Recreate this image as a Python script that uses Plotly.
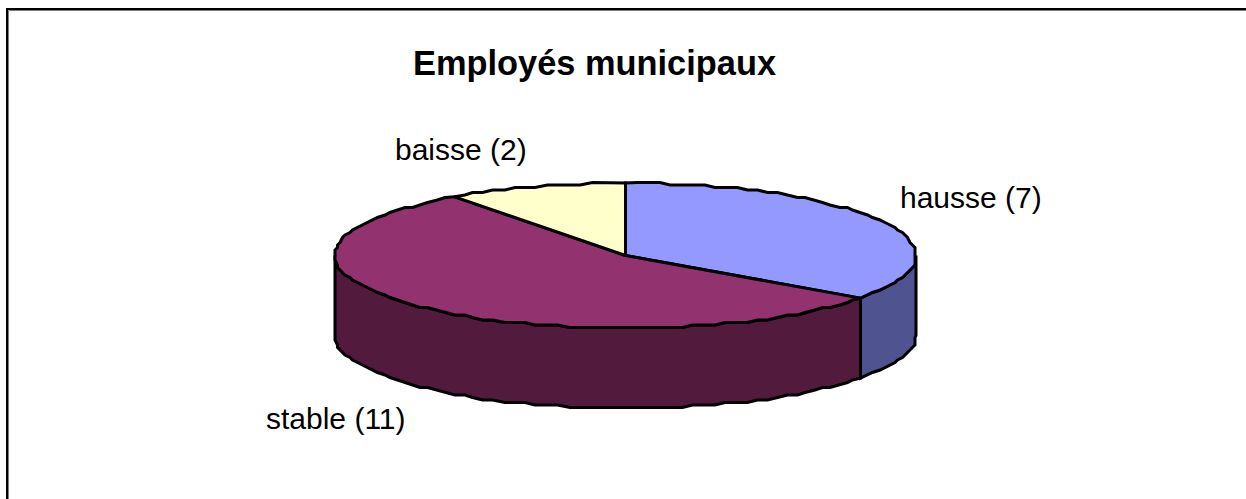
import numpy as np
import plotly.graph_objects as go

TITLE = "Employés municipaux"
categories = ["hausse", "stable", "baisse"]
values = [7, 11, 2]
top_colors = ["#9499FF", "#923370", "#FFFFCC"]
side_colors = ["#4F5490", "#521A3C", "#80805F"]
label_x = [900, 266, 395]
label_y = [200, 421, 152]

W, H = 1246, 499
CX, CY, RX, RY, DEPTH = 625.5, 255.5, 290.5, 72.5, 80
SNAP = 2.5


def arc(a0, a1, dy=0.0):
    n = max(2, int(round((a1 - a0) / (2 * np.pi) * 160)) + 1)
    t = np.linspace(a0, a1, n)
    x = CX + RX * np.sin(t)
    y = CY - RY * np.cos(t)
    ends = np.zeros(n, bool)
    ends[[0, -1]] = True
    # the original outline is visibly stepped: snap the inner vertices to a coarse grid
    xs = np.where(ends, x, np.round(x / SNAP) * SNAP)
    ys = np.where(ends, y, np.round(y / SNAP) * SNAP)
    return xs, ys + dy


fractions = np.array(values, float) / sum(values)
edges = np.concatenate([[0], np.cumsum(fractions)]) * 2 * np.pi

fig = go.Figure()
line = dict(color="black", width=3)

# side walls first
for c, col, a0, a1 in zip(categories, side_colors, edges[:-1], edges[1:]):
    lo, hi = max(a0, np.pi / 2), min(a1, 3 * np.pi / 2)
    if hi <= lo:
        continue
    xt, yt = arc(lo, hi)
    xb, yb = arc(lo, hi, DEPTH)
    fig.add_trace(go.Scatter(
        x=np.concatenate([xt, xb[::-1], xt[:1]]),
        y=np.concatenate([yt, yb[::-1], yt[:1]]),
        mode="lines", fill="toself", fillcolor=col, line=line,
        name=c, hoverinfo="skip", showlegend=False))

# top faces
for c, v, col, a0, a1 in zip(categories, values, top_colors, edges[:-1], edges[1:]):
    xt, yt = arc(a0, a1)
    fig.add_trace(go.Scatter(
        x=np.concatenate([[CX], xt, [CX]]),
        y=np.concatenate([[CY], yt, [CY]]),
        mode="lines", fill="toself", fillcolor=col, line=line,
        name=c, text=f"{c} ({v})", hoverinfo="text", showlegend=False))

fig.add_trace(go.Scatter(
    x=label_x, y=label_y, mode="text",
    text=[f"{c} ({v})" for c, v in zip(categories, values)],
    textposition="middle right",
    textfont=dict(family="Liberation Sans, Arial, sans-serif", size=30, color="black"),
    hoverinfo="skip", showlegend=False, cliponaxis=False))

frame = dict(color="black", width=2)
gray = dict(color="#808080", width=1)
fig.update_layout(
    width=W, height=H,
    margin=dict(l=0, r=0, t=0, b=0),
    paper_bgcolor="white", plot_bgcolor="white",
    xaxis=dict(range=[0, W], visible=False, fixedrange=True),
    yaxis=dict(range=[H, 0], visible=False, fixedrange=True),
    title=dict(text=TITLE, x=594.5 / W, xanchor="center", y=1 - 63 / H, yanchor="middle",
               font=dict(family="Liberation Sans, Arial, sans-serif", size=34.4, color="black", weight="bold")),
    shapes=[
        dict(type="line", xref="x", yref="y", x0=8.5, y0=10.5, x1=W, y1=10.5, line=gray, layer="below"),
        dict(type="line", xref="x", yref="y", x0=8.5, y0=10.5, x1=8.5, y1=H, line=gray, layer="below"),
        dict(type="line", xref="x", yref="y", x0=6, y0=9, x1=W, y1=9, line=frame, layer="below"),
        dict(type="line", xref="x", yref="y", x0=7, y0=8, x1=7, y1=H, line=frame, layer="below"),
    ],
)

fig.write_html(
    "out.html",
    config=dict(displayModeBar=False),
    post_script="document.body.style.margin='0';document.documentElement.style.overflow='hidden';window.dispatchEvent(new Event('resize'));",
)
